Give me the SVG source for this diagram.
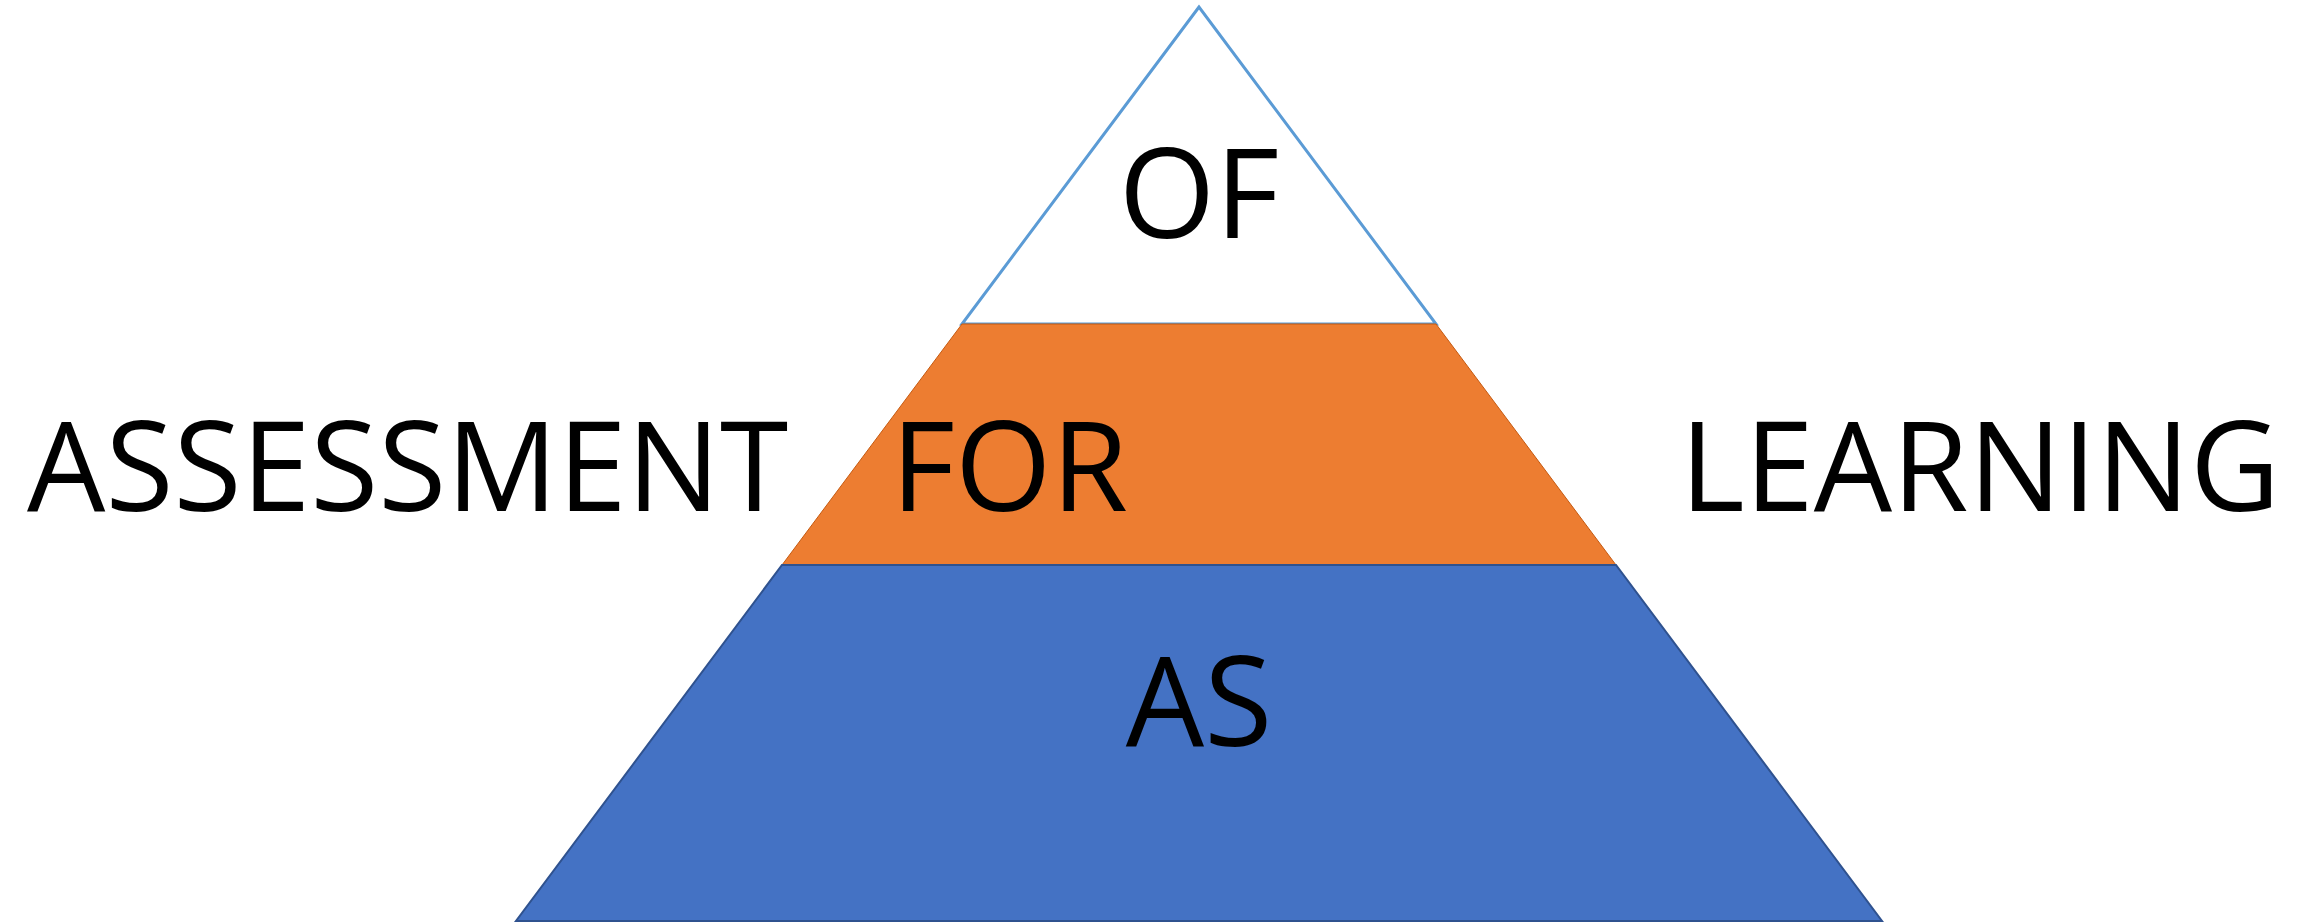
<svg xmlns="http://www.w3.org/2000/svg" width="2321" height="922" viewBox="0 0 2321 922">
<style>
.t{font-family:"Open Sans","Liberation Sans",sans-serif;font-size:124px;fill:#000}
</style>
<rect width="2321" height="922" fill="#fff"/>
<g id="top"><polygon points="1199,7 962,324 1436,324" fill="#fff" stroke="#5B9BD5" stroke-width="3"/></g>
<g id="middle"><polygon points="962,324 1436,324 1616,565 782,565" fill="#ED7D31" stroke="#C55A11" stroke-width="1"/></g>
<g id="bottom"><polygon points="782,565 1616,565 1882,921 516,921" fill="#4472C4" stroke="#2F528F" stroke-width="2"/></g>
<g id="labels">
<text class="t" x="1199" y="238" text-anchor="middle">OF</text>
<text class="t" x="1199" y="746" text-anchor="middle">AS</text>
<text class="t" x="27" y="511">ASSESSMENT</text>
<text class="t" x="891" y="511">FOR</text>
<text class="t" x="1680" y="511">LEARNING</text>
</g>
</svg>
